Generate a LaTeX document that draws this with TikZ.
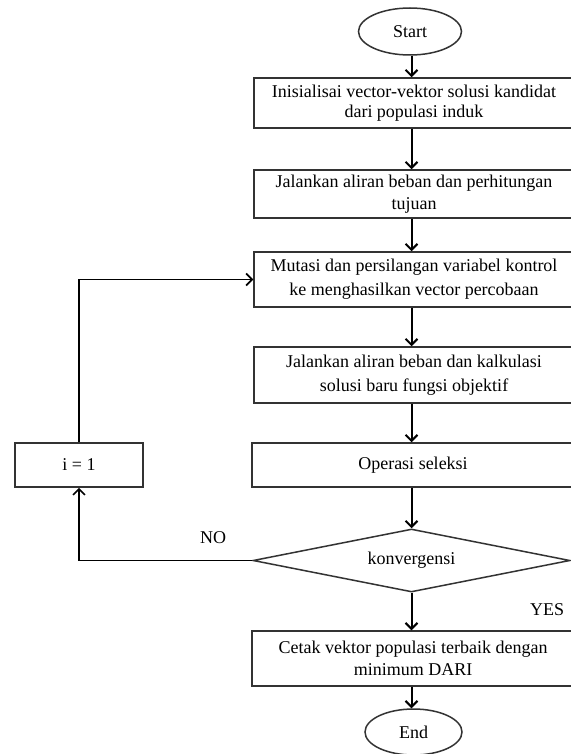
\documentclass[tikz,border=0pt]{standalone}
\usepackage{fontspec}
\setmainfont{Liberation Serif}
\usetikzlibrary{arrows.meta,shapes.geometric}
\begin{document}
\begin{tikzpicture}[x=1pt,y=-1pt,
  every node/.style={font=\fontsize{18}{22}\selectfont, text=black},
  stepbox/.style={draw=black!80, line width=1.5pt, inner sep=1pt, align=center, minimum width=320, fill=white},
  term/.style={draw=black!80, line width=1.5pt, ellipse, inner sep=0pt},
  decision/.style={draw=black!80, line width=1.5pt, diamond, aspect=5, inner sep=0pt, minimum width=317, minimum height=63},
  arr/.style={line width=2pt, -{Straight Barb[length=6pt,width=12pt]}},
  looparr/.style={line width=1.6pt, -{Straight Barb[length=6pt,width=12pt]}},
  lbl/.style={inner sep=0pt}
]
\useasboundingbox (0,0) rectangle (570,754);
\fill[white] (0,0) rectangle (570,754);

\coordinate (spine) at (411.5,0);

\node[term, minimum width=103, minimum height=47] (start) at (410,31.5) {Start};
\node[stepbox, minimum height=50, font=\fontsize{18}{20}\selectfont] (b1) at (414,103) {Inisialisai vector-vektor solusi kandidat\\dari populasi induk};
\node[stepbox, minimum height=48] (b2) at (414,194) {Jalankan aliran beban dan perhitungan\\tujuan};
\node[stepbox, minimum height=55, font=\fontsize{18}{24}\selectfont] (b3) at (414,279.5) {Mutasi dan persilangan variabel kontrol\\ke menghasilkan vector percobaan};
\node[stepbox, minimum height=56, font=\fontsize{18}{24}\selectfont] (b4) at (414,375) {Jalankan aliran beban dan kalkulasi\\solusi baru fungsi objektif};
\node[stepbox, minimum width=322, minimum height=44] (b5) at (413,465) {Operasi seleksi};
\node[decision] (dec) at (411.5,560.5) {konvergensi};
\node[stepbox, minimum width=322, minimum height=55] (b6) at (413,658.5) {Cetak vektor populasi terbaik dengan\\minimum DARI};
\node[term, minimum width=97, minimum height=46] (end) at (413.5,732) {End};

\node[stepbox, minimum width=128, minimum height=44] (inc) at (79,465) {i = 1};

\node[lbl] (no) at (213,538) {NO};
\node[lbl] (yes) at (547,610) {YES};

\draw[arr] (start.south -| spine) -- (b1.north -| spine);
\draw[arr] (b1.south -| spine) -- (b2.north -| spine);
\draw[arr] (b2.south -| spine) -- (b3.north -| spine);
\draw[arr] (b3.south -| spine) -- (b4.north -| spine);
\draw[arr] (b4.south -| spine) -- (b5.north -| spine);
\draw[arr] (b5.south -| spine) -- (dec.north -| spine);
\draw[arr] (dec.south -| spine) -- (b6.north -| spine);
\draw[arr] (b6.south -| spine) -- (end.north -| spine);

\draw[looparr] (inc.north) |- (b3.west);
\draw[looparr] (dec.west) -| (inc.south);
\end{tikzpicture}
\end{document}
